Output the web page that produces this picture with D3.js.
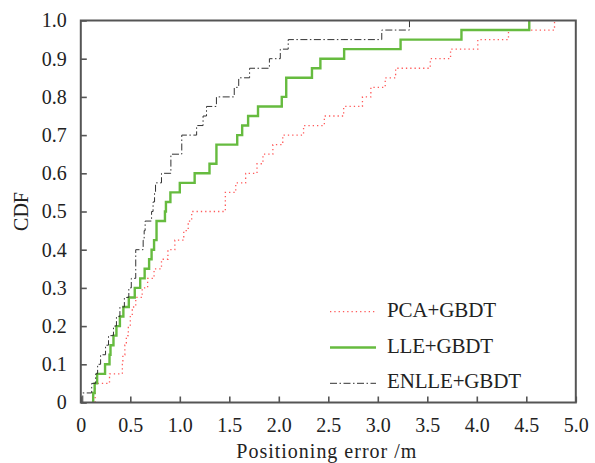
<!DOCTYPE html>
<html>
<head>
<meta charset="utf-8">
<script src="https://cdn.jsdelivr.net/npm/d3@7"></script>
<style>
  html, body { margin: 0; padding: 0; background: #fff; }
  svg { display: block; }
  text { font-family: "Liberation Serif", "Times New Roman", serif; fill: #222; }
</style>
</head>
<body>
<svg id="chart" width="595" height="463"></svg>
<script>
// Empirical CDF step points: error (m) where each curve jumps, and the CDF level after the jump
const pcaErr = [0.145, 0.145, 0.29, 0.42, 0.425, 0.445, 0.46, 0.48, 0.5, 0.52, 0.555, 0.62, 0.675, 0.74, 0.815, 0.88, 0.95, 1.04, 1.085, 1.12, 1.46, 1.565, 1.665, 1.78, 1.84, 1.94, 2.04, 2.25, 2.46, 2.655, 2.845, 2.93, 3.075, 3.18, 3.53, 3.735, 4.01, 4.32, 4.785];
const pcaCdf = [0, 0.05, 0.075, 0.1, 0.125, 0.15, 0.175, 0.2, 0.225, 0.25, 0.275, 0.3, 0.325, 0.35, 0.375, 0.4, 0.425, 0.45, 0.475, 0.5, 0.55, 0.575, 0.6, 0.625, 0.65, 0.675, 0.7, 0.725, 0.75, 0.775, 0.8, 0.825, 0.85, 0.875, 0.9, 0.925, 0.95, 0.975, 1.0];

const lleErr = [0.125, 0.125, 0.14, 0.165, 0.245, 0.29, 0.3, 0.33, 0.36, 0.395, 0.43, 0.485, 0.545, 0.6, 0.645, 0.69, 0.715, 0.74, 0.765, 0.85, 0.86, 0.905, 1.0, 1.15, 1.3, 1.37, 1.58, 1.63, 1.69, 1.79, 2.03, 2.075, 2.335, 2.42, 2.66, 3.23, 3.845, 4.53];
const lleCdf = [0, 0.025, 0.05, 0.075, 0.1, 0.125, 0.15, 0.175, 0.2, 0.225, 0.25, 0.275, 0.3, 0.325, 0.35, 0.375, 0.4, 0.425, 0.475, 0.5, 0.525, 0.55, 0.575, 0.6, 0.625, 0.675, 0.7, 0.725, 0.75, 0.775, 0.8, 0.85, 0.875, 0.9, 0.925, 0.95, 0.975, 1.0];

const enlleErr = [0.02, 0.02, 0.11, 0.15, 0.17, 0.2, 0.25, 0.28, 0.33, 0.36, 0.395, 0.44, 0.485, 0.51, 0.555, 0.63, 0.64, 0.65, 0.715, 0.73, 0.745, 0.755, 0.815, 0.91, 1.02, 1.17, 1.235, 1.27, 1.37, 1.55, 1.595, 1.705, 1.905, 2.015, 2.095, 3.04, 3.32];
const enlleCdf = [0, 0.025, 0.05, 0.075, 0.1, 0.125, 0.15, 0.175, 0.2, 0.225, 0.25, 0.275, 0.3, 0.325, 0.4, 0.425, 0.45, 0.475, 0.5, 0.525, 0.55, 0.575, 0.6, 0.65, 0.7, 0.725, 0.75, 0.775, 0.8, 0.825, 0.85, 0.875, 0.9, 0.925, 0.95, 0.975, 1.0];

const seriesNames = ["PCA+GBDT", "LLE+GBDT", "ENLLE+GBDT"];
const xTicks = [0, 0.5, 1.0, 1.5, 2.0, 2.5, 3.0, 3.5, 4.0, 4.5, 5.0];
const xTickLabels = ["0", "0.5", "1.0", "1.5", "2.0", "2.5", "3.0", "3.5", "4.0", "4.5", "5.0"];
const yTicks = [0, 0.1, 0.2, 0.3, 0.4, 0.5, 0.6, 0.7, 0.8, 0.9, 1.0];
const yTickLabels = ["0", "0.1", "0.2", "0.3", "0.4", "0.5", "0.6", "0.7", "0.8", "0.9", "1.0"];
const xTitle = "Positioning error /m";
const yTitle = "CDF";

const svg = d3.select("#chart");
const plot = { left: 80.8, right: 575.8, top: 20.5, bottom: 402.5 };

const x = d3.scaleLinear().domain([0, 5]).range([plot.left, plot.right]);
const y = d3.scaleLinear().domain([0, 1]).range([plot.bottom, plot.top]);

const axisColor = "#555";

// Series styles
const styles = [
  { color: "#ff5a5a", width: 1.3, dash: "1.3,3" },
  { color: "#66bb3f", width: 2.4, dash: null },
  { color: "#333333", width: 1.0, dash: "7,2.5,1.5,2.5" }
];

const seriesData = [
  d3.zip(pcaErr, pcaCdf),
  d3.zip(lleErr, lleCdf),
  d3.zip(enlleErr, enlleCdf)
];

const line = d3.line()
  .x(d => x(d[0]))
  .y(d => y(d[1]))
  .curve(d3.curveStepAfter);

// Curves
const curves = svg.append("g");
seriesData.forEach((data, i) => {
  const s = styles[i];
  curves.append("path")
    .attr("d", line(data))
    .attr("fill", "none")
    .attr("stroke", s.color)
    .attr("stroke-width", s.width)
    .attr("stroke-dasharray", s.dash);
});

// Axes with inward ticks
const xAxis = d3.axisBottom(x)
  .tickValues(xTicks)
  .tickSize(-6)
  .tickPadding(15)
  .tickFormat((d, i) => xTickLabels[i]);
const yAxis = d3.axisLeft(y)
  .tickValues(yTicks)
  .tickSize(-6)
  .tickPadding(14)
  .tickFormat((d, i) => yTickLabels[i]);

const gx = svg.append("g").attr("transform", `translate(0,${plot.bottom})`).call(xAxis);
const gy = svg.append("g").attr("transform", `translate(${plot.left},0)`).call(yAxis);
[gx, gy].forEach(g => {
  g.select(".domain").remove();
  g.selectAll(".tick line").attr("stroke", axisColor).attr("stroke-width", 1.6);
  g.selectAll(".tick text")
    .attr("fill", "#3a3a3a")
    .style("font-family", '"Liberation Serif", serif')
    .style("font-size", "20px");
});
gx.selectAll(".tick text").attr("dy", "0.71em");

// Frame
svg.append("rect")
  .attr("x", plot.left).attr("y", plot.top)
  .attr("width", plot.right - plot.left)
  .attr("height", plot.bottom - plot.top)
  .attr("fill", "none")
  .attr("stroke", axisColor)
  .attr("stroke-width", 2);

// Axis titles
svg.append("text")
  .attr("x", (plot.left + plot.right) / 2 - 2)
  .attr("y", 458)
  .attr("text-anchor", "middle")
  .attr("textLength", 180)
  .style("font-size", "20px")
  .text(xTitle);

svg.append("text")
  .attr("transform", `translate(28,${(plot.top + plot.bottom) / 2}) rotate(-90)`)
  .attr("text-anchor", "middle")
  .style("font-size", "20px")
  .text(yTitle);

// Legend
const legendY = [311.7, 347.5, 383.3];
const legendWidths = [109, 106, 134];
const legend = svg.append("g");
seriesNames.forEach((name, i) => {
  const s = styles[i];
  legend.append("line")
    .attr("x1", 330).attr("x2", 376)
    .attr("y1", legendY[i]).attr("y2", legendY[i])
    .attr("stroke", s.color)
    .attr("stroke-width", s.width)
    .attr("stroke-dasharray", s.dash);
  legend.append("text")
    .attr("x", 387)
    .attr("y", legendY[i] + 5)
    .attr("textLength", legendWidths[i])
    .style("font-size", "21px")
    .text(name);
});
</script>
</body>
</html>
